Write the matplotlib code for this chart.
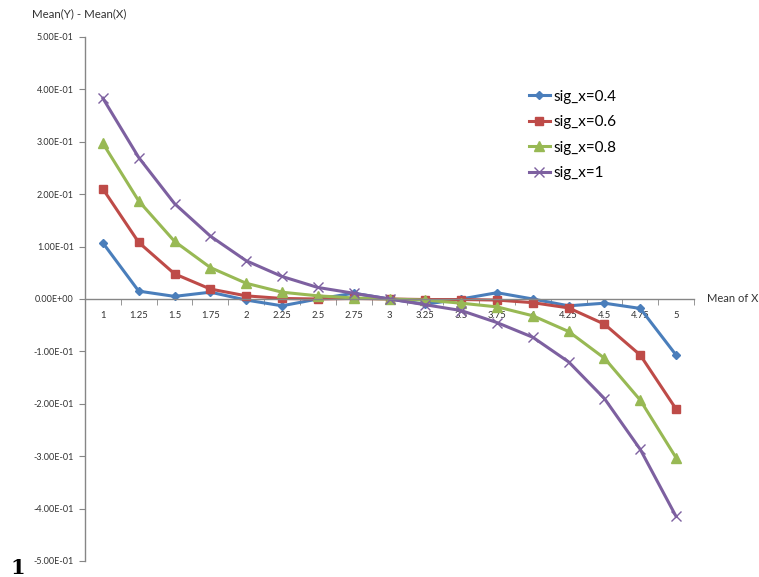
import matplotlib
matplotlib.use("Agg")
import matplotlib.pyplot as plt
import numpy as np

categories = ["1", "1.25", "1.5", "1.75", "2", "2.25", "2.5", "2.75", "3",
              "3.25", "3.5", "3.75", "4", "4.25", "4.5", "4.75", "5"]
sig_04 = [0.107, 0.015, 0.005, 0.013, -0.002, -0.013, 0.000, 0.011, 0.000,
          -0.010, 0.000, 0.012, 0.000, -0.013, -0.008, -0.018, -0.107]
sig_06 = [0.210, 0.108, 0.048, 0.019, 0.006, 0.001, 0.000, 0.001, 0.000,
          -0.001, -0.001, -0.002, -0.007, -0.017, -0.048, -0.107, -0.210]
sig_08 = [0.297, 0.187, 0.110, 0.060, 0.030, 0.013, 0.006, 0.002, 0.000,
          -0.002, -0.008, -0.015, -0.032, -0.062, -0.113, -0.193, -0.303]
sig_10 = [0.383, 0.270, 0.182, 0.120, 0.073, 0.043, 0.022, 0.011, 0.000,
          -0.011, -0.022, -0.045, -0.073, -0.120, -0.190, -0.287, -0.415]
series_labels = ["sig_x=0.4", "sig_x=0.6", "sig_x=0.8", "sig_x=1"]
y_ticks = [-0.5, -0.4, -0.3, -0.2, -0.1, 0.0, 0.1, 0.2, 0.3, 0.4, 0.5]
y_tick_labels = ["-5.00E-01", "-4.00E-01", "-3.00E-01", "-2.00E-01", "-1.00E-01",
                 "0.00E+00", "1.00E-01", "2.00E-01", "3.00E-01", "4.00E-01", "5.00E-01"]

plt.rcParams['font.family'] = ['Lato', 'DejaVu Sans']

W, H = 759, 577
fig = plt.figure(figsize=(W / 100, H / 100), dpi=100)
ax = fig.add_axes([85 / W, (H - 561) / H, (694 - 85) / W, (561 - 37) / H])

x = np.arange(len(categories))
styles = [
    dict(color="#4A7EBB", marker="D", markersize=4.2),
    dict(color="#BE4B48", marker="s", markersize=6),
    dict(color="#98B954", marker="^", markersize=7),
    dict(color="#7D60A0", marker="x", markersize=6.5, markeredgewidth=1.0),
]
for vals, lab, st in zip([sig_04, sig_06, sig_08, sig_10], series_labels, styles):
    ax.plot(x, vals, label=lab, linewidth=2.2, **st)

ax.set_xlim(-0.5, len(categories) - 0.5)
ax.set_ylim(-0.5, 0.5)

grey = "#868686"
for s in ["top", "right"]:
    ax.spines[s].set_visible(False)
ax.spines["bottom"].set_position(("data", 0))
ax.spines["bottom"].set_color(grey)
ax.spines["left"].set_color(grey)
ax.spines["left"].set_linewidth(1.0)
ax.spines["bottom"].set_linewidth(1.0)

ax.set_yticks(y_ticks)
ax.set_yticklabels(y_tick_labels, fontsize=6.5, color="#333333")
ax.tick_params(axis="y", length=4, color=grey, pad=4)

ax.set_xticks(x)
ax.set_xticklabels(categories, fontsize=6.8, color="#333333")
ax.tick_params(axis="x", which="major", length=0, pad=9)
ax.set_xticks(np.arange(-0.5, len(categories), 1.0), minor=True)
ax.tick_params(axis="x", which="minor", length=4, color=grey, direction="out")

fig.text(32 / W, 1 - 14 / H, "Mean(Y) - Mean(X)", fontsize=8.3, color="#333333",
         ha="left", va="center")
fig.text(707 / W, 1 - 298 / H, "Mean of X", fontsize=8, color="#333333",
         ha="left", va="center")
fig.text(10 / W, 1 - 568 / H, "1", fontsize=15, fontweight="bold",
         family="DejaVu Serif", ha="left", va="center")

leg = ax.legend(loc="upper left", bbox_to_anchor=(521 / W, 1 - 82 / H),
                bbox_transform=fig.transFigure, frameon=False, fontsize=11,
                handlelength=1.4, handletextpad=0.2, labelspacing=0.75,
                borderpad=0)

fig.savefig("out.png", dpi=100)
